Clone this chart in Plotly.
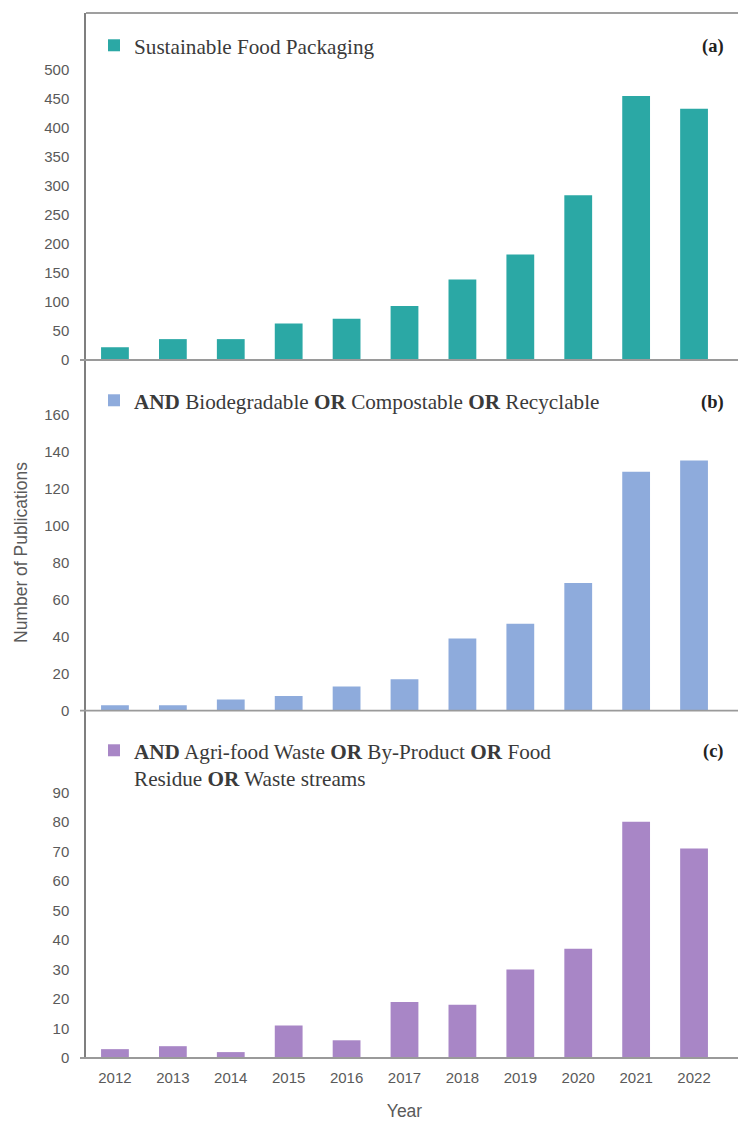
import plotly.graph_objects as go
from plotly.subplots import make_subplots

# ---------------- data ----------------
years = ["2012", "2013", "2014", "2015", "2016", "2017", "2018", "2019", "2020", "2021", "2022"]
pubs_a = [22, 36, 36, 63, 71, 93, 139, 182, 284, 455, 433]
pubs_b = [3, 3, 6, 8, 13, 17, 39, 47, 69, 129, 135]
pubs_c = [3, 4, 2, 11, 6, 19, 18, 30, 37, 80, 71]

name_a = "Sustainable Food Packaging"
name_b = "<b>AND</b> Biodegradable <b>OR</b> Compostable <b>OR</b> Recyclable"
name_c = "<b>AND</b> Agri-food Waste <b>OR</b> By-Product <b>OR</b> Food<br>Residue <b>OR</b> Waste streams"

ticks_a = [0, 50, 100, 150, 200, 250, 300, 350, 400, 450, 500]
ticks_b = [0, 20, 40, 60, 80, 100, 120, 140, 160]
ticks_c = [0, 10, 20, 30, 40, 50, 60, 70, 80, 90]

panel_labels = ["(a)", "(b)", "(c)"]

# ---------------- styling ----------------
W, H = 738, 1121
ML, MR, MT, MB = 86, 15, 13, 63
PW, PH = W - ML - MR, H - MT - MB

col_a, col_b, col_c = "#2ba8a5", "#8eabdc", "#a886c6"
tick_font = dict(family="Liberation Sans, Arial, sans-serif", size=15, color="#5a5a5a")
leg_font = dict(family="Liberation Serif, Times New Roman, serif", size=21.2, color="#3a3a3a")
frame_col = "#7f7f7f"
base_col = "#9a9a9a"


def py(p):
    """pixel y (from top of page) -> paper y"""
    return (MT + PH - p) / PH


def px(p):
    return (p - ML) / PW


fig = make_subplots(rows=3, cols=1, shared_xaxes=False, vertical_spacing=0)

fig.add_trace(go.Bar(x=years, y=pubs_a, name=name_a, marker_color=col_a,
                     marker_line_width=0, legend="legend"), row=1, col=1)
fig.add_trace(go.Bar(x=years, y=pubs_b, name=name_b, marker_color=col_b,
                     marker_line_width=0, legend="legend2"), row=2, col=1)
fig.add_trace(go.Bar(x=years, y=pubs_c, name=name_c, marker_color=col_c,
                     marker_line_width=0, legend="legend3"), row=3, col=1)

# domains (contiguous panels)
b_a, b_b = 360, 710.7
fig.update_layout(
    yaxis=dict(domain=[py(b_a), 1.0], range=[0, (b_a - MT) / 0.58]),
    yaxis2=dict(domain=[py(b_b), py(b_a)], range=[0, (b_b - b_a) / 1.8525]),
    yaxis3=dict(domain=[0.0, py(b_b)], range=[0, (MT + PH - b_b) / 2.952]),
)
fig.update_yaxes(tickvals=ticks_a, row=1, col=1)
fig.update_yaxes(tickvals=ticks_b, row=2, col=1)
fig.update_yaxes(tickvals=ticks_c, row=3, col=1)

fig.update_yaxes(showgrid=False, zeroline=False, showline=True, linecolor=frame_col,
                 linewidth=1.5, ticks="", tickfont=tick_font, ticklabelstandoff=12,
                 fixedrange=True, automargin=False)
fig.update_xaxes(showgrid=False, zeroline=False, showline=False, ticks="",
                 type="category", tickfont=tick_font, fixedrange=True, automargin=False)
fig.update_xaxes(showticklabels=False, row=1, col=1)
fig.update_xaxes(showticklabels=False, row=2, col=1)
fig.update_xaxes(ticklabelstandoff=9, title=dict(text="Year", standoff=26,
                 font=dict(family="Liberation Sans, Arial, sans-serif", size=17.5, color="#5a5a5a")),
                 row=3, col=1)

# frame lines & baselines (decoration)
shapes = [
    dict(type="line", xref="paper", yref="paper", x0=0, x1=px(W), y0=1, y1=1,
         line=dict(color=frame_col, width=1.5)),
]
for ax in ["y", "y2", "y3"]:
    shapes.append(dict(type="line", xref="paper", yref=ax + " domain", x0=px(80), x1=px(W),
                       y0=0, y1=0, line=dict(color=base_col, width=1.8)))
fig.update_layout(shapes=shapes)

# panel labels and y-title
ann = [
    dict(text="Number of Publications", xref="paper", yref="paper", x=px(21), y=py(553),
         textangle=-90, showarrow=False, xanchor="center", yanchor="middle",
         font=dict(family="Liberation Sans, Arial, sans-serif", size=17.5, color="#5a5a5a")),
]
for lab, yy in zip(panel_labels, [47, 403, 752]):
    ann.append(dict(text="<b>" + lab + "</b>", xref="paper", yref="paper", x=px(726), y=py(yy),
                    showarrow=False, xanchor="right", yanchor="middle",
                    font=dict(family="Liberation Serif, Times New Roman, serif", size=18.5, color="#222222")))
fig.update_layout(annotations=ann)

leg_common = dict(font=leg_font, bgcolor="rgba(0,0,0,0)", borderwidth=0,
                  xanchor="left", yanchor="top", valign="top", itemclick=False,
                  itemdoubleclick=False)
fig.update_layout(
    legend=dict(x=px(94), y=py(25), **leg_common),
    legend2=dict(x=px(94), y=py(380), **leg_common),
    legend3=dict(x=px(94), y=py(730), **leg_common),
)

fig.update_layout(
    width=W, height=H, showlegend=True, autosize=False,
    margin=dict(l=ML, r=MR, t=MT, b=MB, pad=0, autoexpand=False),
    paper_bgcolor="white", plot_bgcolor="white",
    bargap=0.52,
)

fig.write_html("out.html",
               config=dict(displayModeBar=False, responsive=False),
               post_script="document.body.style.margin='0';document.body.style.padding='0';")
